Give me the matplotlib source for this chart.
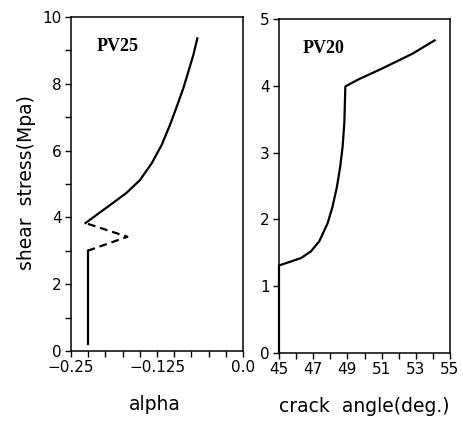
import matplotlib
matplotlib.use("Agg")
import matplotlib.pyplot as plt
from matplotlib.ticker import FixedLocator, NullFormatter

# ---- data ----
# Left panel: PV25, shear stress vs alpha
pv25_vert_alpha = [-0.226, -0.226]
pv25_vert_stress = [0.2, 3.0]
pv25_dash_alpha = [-0.226, -0.168, -0.229]
pv25_dash_stress = [3.0, 3.42, 3.83]
pv25_curve_alpha = [-0.229, -0.2079, -0.1885, -0.169, -0.1497, -0.1327,
                    -0.1182, -0.1061, -0.0964, -0.0867, -0.0795, -0.0722,
                    -0.0664]
pv25_curve_stress = [3.83, 4.15, 4.44, 4.74, 5.12, 5.62, 6.17, 6.77, 7.31,
                     7.87, 8.36, 8.86, 9.36]

# Right panel: PV20, shear stress vs crack angle
pv20_angle = [45.0, 45.0, 46.28, 46.86, 47.35, 47.84, 48.13, 48.39, 48.58,
              48.72, 48.82, 48.88, 49.6, 51.04, 52.8, 54.1]
pv20_stress = [0.0, 1.31, 1.42, 1.52, 1.67, 1.94, 2.19, 2.49, 2.79, 3.09,
               3.44, 3.99, 4.09, 4.26, 4.48, 4.68]

left_xticks = [-0.25, -0.125, 0.0]
left_xticklabels = ["\u22120.25", "\u22120.125", "0.0"]
left_yticks = [0, 2, 4, 6, 8, 10]
right_xticks = [45, 47, 49, 51, 53, 55]
right_yticks = [0, 1, 2, 3, 4, 5]

W, H = 464, 421
fig = plt.figure(figsize=(W / 100, H / 100), dpi=100)

tick_font = 11
lw = 1.6

def px_axes(x0, y0, x1, y1):
    return fig.add_axes([x0 / W, 1 - y1 / H, (x1 - x0) / W, (y1 - y0) / H])

ax1 = px_axes(71, 17, 243, 351)
ax2 = px_axes(279, 19, 450, 353)

# left panel
ax1.plot(pv25_vert_alpha, pv25_vert_stress, color="black", lw=lw)
ax1.plot(pv25_dash_alpha, pv25_dash_stress, color="black", lw=lw,
         linestyle=(0, (3.5, 2.2)))
ax1.plot(pv25_curve_alpha, pv25_curve_stress, color="black", lw=lw,
         solid_joinstyle="round")
ax1.set_xlim(-0.25, 0.0)
ax1.set_ylim(0, 10)
ax1.xaxis.set_major_locator(FixedLocator(left_xticks))
ax1.set_xticklabels(left_xticklabels)
ax1.xaxis.set_minor_locator(FixedLocator(
    [-0.225, -0.2, -0.175, -0.15, -0.1, -0.075, -0.05, -0.025]))
ax1.yaxis.set_major_locator(FixedLocator(left_yticks))
ax1.yaxis.set_minor_locator(FixedLocator([1, 3, 5, 7, 9]))
ax1.text(0.15, 0.899, "PV25", transform=ax1.transAxes, fontsize=13,
         fontweight="bold", family="Liberation Serif", ha="left", va="baseline")

# right panel
ax2.plot(pv20_angle, pv20_stress, color="black", lw=lw, clip_on=False,
         solid_joinstyle="round")
ax2.set_xlim(45, 55)
ax2.set_ylim(0, 5)
ax2.xaxis.set_major_locator(FixedLocator(right_xticks))
ax2.xaxis.set_minor_locator(FixedLocator([46, 48, 50, 52, 54]))
ax2.yaxis.set_major_locator(FixedLocator(right_yticks))
ax2.text(0.14, 0.897, "PV20", transform=ax2.transAxes, fontsize=13,
         fontweight="bold", family="Liberation Serif", ha="left", va="baseline")

for ax in (ax1, ax2):
    for s in ax.spines.values():
        s.set_linewidth(1.1)
    ax.tick_params(axis="both", which="both", direction="out", length=4.5,
                   width=1.0, labelsize=tick_font, pad=2)
    ax.tick_params(top=False, right=False)
    ax.xaxis.set_minor_formatter(NullFormatter())
    ax.yaxis.set_minor_formatter(NullFormatter())

fig.text(27 / W, 1 - 183 / H, "shear  stress(Mpa)", rotation=90,
         ha="center", va="center", fontsize=13.5)
fig.text(155 / W, 1 - 405 / H, "alpha", ha="center", va="center", fontsize=13.5)
fig.text(364 / W, 1 - 407 / H, "crack  angle(deg.)", ha="center", va="center",
         fontsize=13.5)

fig.savefig("out.png", dpi=100)
